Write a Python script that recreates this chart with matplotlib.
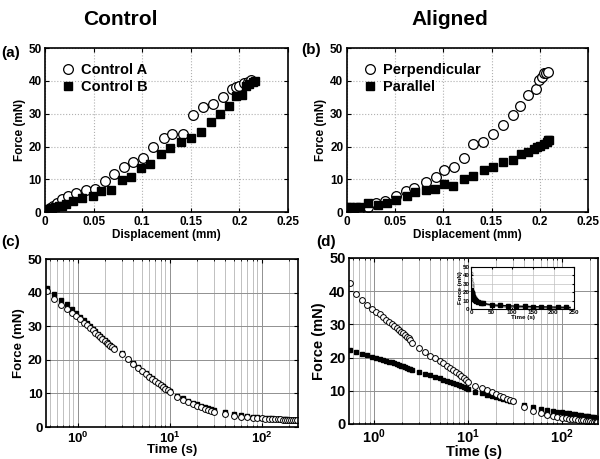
import matplotlib
matplotlib.use("Agg")
import matplotlib.pyplot as plt

plt.rcParams['font.family'] = ['Liberation Sans', 'DejaVu Sans']
plt.rcParams['font.weight'] = 'bold'

# (a) control displacement-force
disp_a = [0.005, 0.0086, 0.0127, 0.017, 0.024, 0.032, 0.042, 0.051, 0.062, 0.071, 0.081, 0.091,
          0.101, 0.111, 0.122, 0.131, 0.142, 0.152, 0.163, 0.173, 0.183, 0.192, 0.197, 0.200,
          0.205, 0.209, 0.212]
force_a = [1.2, 1.7, 2.7, 4.0, 4.8, 5.8, 6.6, 7.0, 9.5, 11.7, 13.6, 15.4, 16.4, 20.0, 22.5, 23.9,
           23.9, 29.6, 32.0, 33.0, 35.2, 37.6, 38.1, 38.5, 39.3, 39.8, 40.3]
disp_b = [0.001, 0.003, 0.007, 0.010, 0.014, 0.017, 0.022, 0.029, 0.038, 0.049, 0.058, 0.068,
          0.079, 0.088, 0.099, 0.108, 0.119, 0.129, 0.140, 0.150, 0.161, 0.171, 0.180, 0.189,
          0.196, 0.203, 0.207, 0.210, 0.214, 0.216]
force_b = [0.5, 0.9, 1.2, 1.5, 1.7, 2.0, 2.5, 3.3, 4.3, 5.0, 6.3, 6.8, 9.8, 10.8, 13.4, 14.6,
           17.7, 19.6, 21.3, 22.7, 24.5, 27.5, 29.8, 32.5, 35.3, 35.7, 38.6, 39.1, 39.6, 40.1]

# (b) aligned displacement-force
disp_perp = [0.002, 0.005, 0.0075, 0.013, 0.022, 0.030, 0.040, 0.051, 0.061, 0.070, 0.082,
             0.092, 0.101, 0.111, 0.121, 0.131, 0.141, 0.152, 0.162, 0.172, 0.180, 0.188,
             0.196, 0.199, 0.202, 0.204, 0.206, 0.209]
force_perp = [0.9, 0.5, 0.2, 0.5, 1.5, 2.8, 3.3, 4.8, 6.3, 7.3, 9.3, 10.8, 12.8, 13.6, 16.4,
              20.8, 21.3, 23.9, 26.6, 29.6, 32.4, 35.7, 37.7, 40.3, 41.1, 42.3, 42.5, 42.7]
disp_par = [0.000, 0.003, 0.007, 0.010, 0.014, 0.022, 0.032, 0.042, 0.051, 0.062, 0.071, 0.082,
            0.091, 0.101, 0.110, 0.121, 0.131, 0.142, 0.152, 0.162, 0.172, 0.181, 0.188, 0.194,
            0.197, 0.200, 0.204, 0.207, 0.209, 0.210]
force_par = [1.5, 1.5, 1.3, 1.5, 1.5, 2.7, 2.3, 2.8, 3.8, 4.8, 6.0, 6.6, 7.0, 8.5, 7.8, 10.1,
             11.0, 12.7, 13.6, 15.2, 15.9, 17.7, 18.4, 19.2, 19.7, 20.2, 20.7, 21.5, 21.9, 22.1]

# (c) control relaxation
t_c = [0.46, 0.56, 0.66, 0.76, 0.86, 0.96, 1.06, 1.16, 1.26, 1.36, 1.46, 1.56, 1.66, 1.76, 1.86,
       1.96, 2.06, 2.16, 2.26, 2.36, 2.46,
       3, 3.5, 4, 4.5, 5, 5.5, 6, 6.5, 7, 7.5, 8, 8.5, 9, 9.5, 10,
       12, 14, 16, 18, 20, 22, 24, 26, 28, 30,
       40, 50, 60, 70, 80, 90, 100, 110, 120, 130, 140, 150, 160, 170, 180, 190, 200, 210, 220,
       230, 240]
relax_a = [40.6, 38.2, 36.4, 35.2, 34.0, 33.0, 32.0, 31.1, 30.3, 29.5, 28.8, 28.1, 27.4, 26.8,
           26.2, 25.6, 25.1, 24.6, 24.1, 23.7, 23.3,
           21.8, 20.1, 18.8, 17.6, 16.6, 15.8, 15.0, 14.3, 13.6, 13.0, 12.4, 11.9, 11.4, 10.9, 10.5,
           8.9, 8.0, 7.3, 6.8, 6.3, 5.9, 5.5, 5.2, 4.9, 4.6,
           3.8, 3.3, 3.0, 2.9, 2.8, 2.7, 2.6, 2.5, 2.45, 2.4, 2.35, 2.3, 2.25, 2.2, 2.15, 2.1, 2.1,
           2.05, 2.0, 2.0, 2.0]
relax_b = [41.3, 39.6, 37.9, 36.5, 35.2, 34.0, 32.8, 31.8, 30.9, 30.0, 29.2, 28.5, 27.8, 27.1,
           26.5, 25.9, 25.3, 24.8, 24.3, 23.9, 23.5,
           22.1, 20.3, 19.0, 17.8, 16.8, 16.0, 15.2, 14.5, 13.8, 13.2, 12.6, 12.1, 11.6, 11.1, 10.7,
           9.3, 8.5, 7.7, 7.2, 6.7, 6.3, 5.9, 5.6, 5.3, 5.0,
           4.4, 3.9, 3.6, 3.3, 3.1, 2.9, 2.8, 2.7, 2.65, 2.6, 2.5, 2.45, 2.4, 2.35, 2.3, 2.25, 2.2,
           2.2, 2.15, 2.1, 2.1]

# (d) aligned relaxation
t_d = [0.55, 0.65, 0.75, 0.85, 0.95, 1.05, 1.15, 1.25, 1.35, 1.45, 1.55, 1.65, 1.75, 1.85, 1.95,
       2.05, 2.15, 2.25, 2.35, 2.45, 2.55,
       3, 3.5, 4, 4.5, 5, 5.5, 6, 6.5, 7, 7.5, 8, 8.5, 9, 9.5, 10,
       12, 14, 16, 18, 20, 22, 24, 26, 28, 30,
       40, 50, 60, 70, 80, 90, 100, 110, 120, 130, 140, 150, 160, 170, 180, 190, 200, 210, 220,
       230, 240]
relax_perp = [42.4, 39.0, 37.2, 35.7, 34.6, 33.8, 33.0, 32.2, 31.4, 30.7, 30.1, 29.5, 28.9, 28.3,
              27.8, 27.3, 26.8, 26.3, 25.8, 25.2, 24.4,
              22.8, 21.6, 20.6, 19.8, 19.0, 18.2, 17.5, 16.8, 16.1, 15.5, 14.9, 14.3, 13.7, 13.1,
              12.5,
              11.4, 10.7, 10.1, 9.5, 9.0, 8.5, 8.0, 7.6, 7.2, 6.8,
              5.0, 4.0, 3.2, 2.8, 2.4, 2.1, 1.9, 1.7, 1.6, 1.5, 1.4, 1.3, 1.2, 1.1, 1.0, 0.9, 0.8,
              0.7, 0.7, 0.6, 0.5]
relax_par = [22.2, 21.6, 21.1, 20.7, 20.3, 20.0, 19.7, 19.4, 19.1, 18.8, 18.5, 18.2, 18.0, 17.7,
             17.5, 17.3, 17.0, 16.8, 16.6, 16.4, 16.2,
             15.7, 15.1, 14.6, 14.1, 13.7, 13.3, 13.0, 12.6, 12.3, 12.0, 11.7, 11.4, 11.1, 10.9,
             10.6,
             9.6, 9.2, 8.7, 8.4, 8.1, 7.8, 7.5, 7.2, 7.0, 6.8,
             5.7, 5.0, 4.5, 4.2, 3.9, 3.7, 3.5, 3.3, 3.2, 3.0, 2.9, 2.8, 2.6, 2.5, 2.4, 2.3, 2.2,
             2.1, 2.0, 1.9, 1.8]

disp_ticks = [0, 0.05, 0.1, 0.15, 0.2, 0.25]
disp_labels = ['0', '0.05', '0.1', '0.15', '0.2', '0.25']
force_ticks = [0, 10, 20, 30, 40, 50]


def style_axes(ax, fs=8.5):
    ax.tick_params(direction='in', top=True, right=True, labelsize=fs, length=3, width=0.8,
                   pad=2.5)
    ax.tick_params(which='minor', direction='in', top=True, right=True, length=1.5)
    for s in ax.spines.values():
        s.set_linewidth(1.2)
    for lab in ax.get_xticklabels() + ax.get_yticklabels():
        lab.set_fontweight('bold')


fig = plt.figure(figsize=(6, 4.59), dpi=100)

ax_a = fig.add_axes([0.075, 0.538, 0.405, 0.357])
ax_b = fig.add_axes([0.578, 0.538, 0.402, 0.357])
ax_c = fig.add_axes([0.077, 0.0697, 0.42, 0.366])
ax_d = fig.add_axes([0.582, 0.0763, 0.415, 0.362])

# displacement panels
for ax, xo, yo, xs, ys, lo, ls in [
        (ax_a, disp_a, force_a, disp_b, force_b, 'Control A', 'Control B'),
        (ax_b, disp_perp, force_perp, disp_par, force_par, 'Perpendicular', 'Parallel')]:
    ax.plot(xo, yo, 'o', mfc='white', mec='black', ms=7, mew=0.9, label=lo)
    ax.plot(xs, ys, 's', mfc='black', mec='black', ms=5.5, label=ls)
    ax.set_xlim(0, 0.25)
    ax.set_ylim(0, 50)
    ax.set_xticks(disp_ticks)
    ax.set_xticklabels(disp_labels)
    ax.set_yticks(force_ticks)
    ax.grid(True, color='#b0b0b0', linestyle=':', linewidth=0.8)
    ax.set_xlabel('Displacement (mm)', fontsize=8.5, fontweight='bold', labelpad=1)
    ax.set_ylabel('Force (mN)', fontsize=8.5, fontweight='bold', labelpad=2)
    ax.legend(loc='upper left', frameon=False, prop={'weight': 'bold', 'size': 10.5},
              handletextpad=0.3, borderaxespad=0.6, labelspacing=0.2, handlelength=1.2)
    style_axes(ax)

# relaxation panels
for ax, tt, yo, ys, xl, fs in [(ax_c, t_c, relax_a, relax_b, (0.455, 250), 9.5),
                               (ax_d, t_d, relax_perp, relax_par, (0.545, 245), 10.5)]:
    ax.plot(tt, ys, 's', mfc='black', mec='black', ms=3.3)
    ax.plot(tt, yo, 'o', mfc='white', mec='black', ms=4.2, mew=0.7)
    ax.set_xscale('log')
    ax.set_xlim(*xl)
    ax.set_ylim(0, 50)
    ax.set_yticks(force_ticks)
    ax.grid(True, which='major', color='#909090', linewidth=0.7)
    ax.grid(True, which='minor', axis='x', color='#c0c0c0', linewidth=0.7)
    ax.set_xlabel('Time (s)', fontsize=fs, fontweight='bold', labelpad=-1)
    ax.set_ylabel('Force (mN)', fontsize=fs, fontweight='bold', labelpad=2)
    style_axes(ax, fs=fs)

# inset in (d)
ax_in = fig.add_axes([0.785, 0.327, 0.172, 0.0915])
ax_in.plot(t_d, relax_perp, '-', color='#808080', lw=1.0)
ax_in.plot(t_d, relax_perp, 'o', mfc='white', mec='#707070', ms=2.2, mew=0.5,
           markevery=list(range(0, 46, 3)))
ax_in.plot(t_d, relax_par, '-', color='black', lw=1.0)
ax_in.plot(t_d, relax_par, 's', mfc='black', mec='black', ms=2.2,
           markevery=list(range(0, 46, 3)) + list(range(47, 67, 2)))
ax_in.set_xlim(0, 250)
ax_in.set_ylim(0, 50)
ax_in.set_xticks([0, 50, 100, 150, 200, 250])
ax_in.set_yticks(force_ticks)
ax_in.grid(True, color='#c0c0c0', linewidth=0.5)
ax_in.set_xlabel('Time (s)', fontsize=4.5, fontweight='bold', labelpad=0)
ax_in.set_ylabel('Force (mN)', fontsize=4.5, fontweight='bold', labelpad=0)
ax_in.tick_params(direction='in', top=True, right=True, labelsize=4.5, length=1.5, pad=1)
for s in ax_in.spines.values():
    s.set_linewidth(0.8)

# titles and panel labels
fig.text(0.2, 0.958, 'Control', fontsize=15, fontweight='bold', ha='center', va='center')
fig.text(0.75, 0.958, 'Aligned', fontsize=15, fontweight='bold', ha='center', va='center')
fig.text(0.002, 0.885, '(a)', fontsize=11, fontweight='bold', va='center')
fig.text(0.502, 0.892, '(b)', fontsize=11, fontweight='bold', va='center')
fig.text(0.002, 0.472, '(c)', fontsize=11, fontweight='bold', va='center')
fig.text(0.527, 0.472, '(d)', fontsize=11, fontweight='bold', va='center')

fig.savefig('out.png', dpi=100)
